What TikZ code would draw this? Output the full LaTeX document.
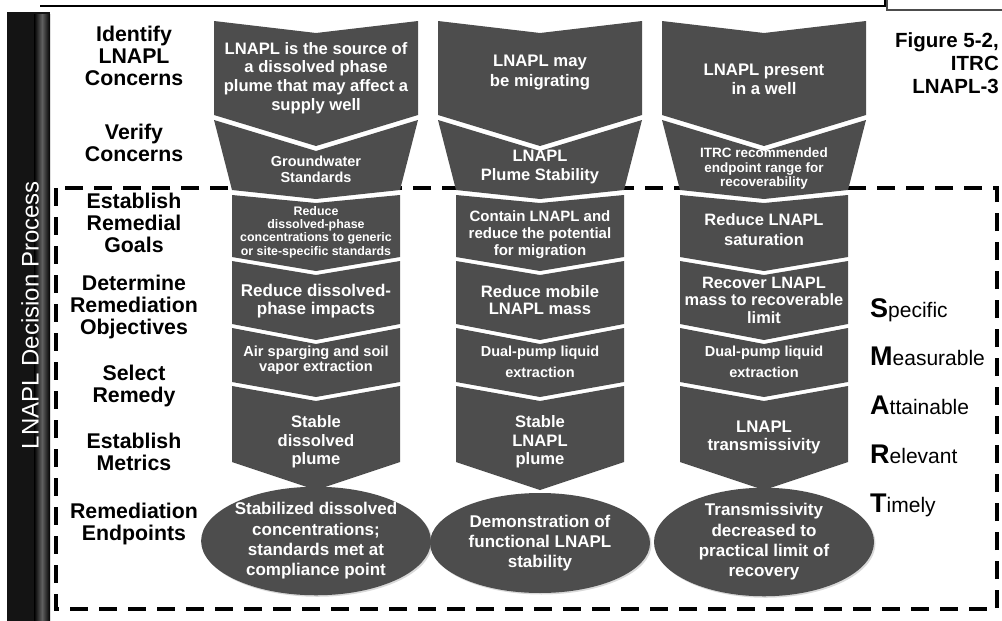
\documentclass[tikz,border=0pt]{standalone}
\usepackage{fontspec}
\setmainfont{Liberation Sans}
\usetikzlibrary{shapes.geometric,shadows,positioning}
\definecolor{blockgray}{RGB}{77,77,77}
\newcommand{\txtsize}[2]{\fontsize{#1}{#2}\selectfont}
\newcommand{\initial}[1]{{\bfseries\txtsize{27}{27}#1}}

\begin{document}
\begin{tikzpicture}[
    x=1pt, y=-1pt,
    blk/.style={fill=blockgray},
    intxt/.style={text=white, align=center, inner sep=0pt},
    stage/.style={align=center, inner sep=0pt, font=\bfseries\txtsize{21.3}{21.7}},
    endpt/.style={ellipse, fill=blockgray, minimum width=220pt, minimum height=100pt, inner sep=0pt,
        text=white, align=center, font=\bfseries\txtsize{17}{20.3},
        drop shadow={opacity=0.3, shadow xshift=1.5pt, shadow yshift=-1.5pt}},
    smart/.style={anchor=base west, inner sep=0pt, font=\txtsize{21}{24}},
    figtxt/.style={anchor=base east, inner sep=0pt, font=\bfseries\txtsize{20.5}{22}},
    frame/.style={line width=3.5pt, dash pattern=on 18pt off 11pt}
]
    \useasboundingbox (0,0) rectangle (1002,621);
    \clip (0,0) rectangle (1002,621);

    % header boxes
    \draw[line width=2pt] (40,6) -- (885,6) -- (885,-3);
    \draw[line width=1.2pt, gray!60!black] (887,-3) -- (887,10) -- (1006,10);

    % side bar
    \fill[black!92] (7,12) rectangle (50,625);
    \shade[left color=black, right color=black, middle color=gray!75!black] (34,14) rectangle (50,625);
    \node[rotate=90, text=white, inner sep=0pt, font=\txtsize{24}{26}] (barlbl) at (30,315) {LNAPL Decision Process};

    % dashed frame
    \draw[frame] (56,188) rectangle (997,609);

    % chevron columns
    \foreach \c in {316,540,764} {
        \fill[blk] (\c-102,21) -- (\c,33) -- (\c+102,21) -- (\c+102,115) -- (\c,146) -- (\c-102,115) -- cycle;
        \fill[blk] (\c-102,120) -- (\c,151) -- (\c+102,120) -- (\c+84,190) -- (\c,199) -- (\c-84,190) -- cycle;
        \fill[blk] (\c-84,195) -- (\c,203) -- (\c+84,195) -- (\c+84,257) -- (\c,271) -- (\c-84,257) -- cycle;
        \fill[blk] (\c-84,261) -- (\c,275) -- (\c+84,261) -- (\c+84,324) -- (\c,340) -- (\c-84,324) -- cycle;
        \fill[blk] (\c-84,328) -- (\c,344) -- (\c+84,328) -- (\c+84,382) -- (\c,397) -- (\c-84,382) -- cycle;
        \fill[blk] (\c-84,386) -- (\c,401) -- (\c+84,386) -- (\c+84,462) -- (\c,490) -- (\c-84,462) -- cycle;
    }

    % stage labels
    \node[stage] (identify) at (134,56) {Identify\\LNAPL\\Concerns};
    \node[stage] (verify) at (134,143) {Verify\\Concerns};
    \node[stage] (goals) at (134,223) {Establish\\Remedial\\Goals};
    \node[stage] (objectives) at (134,307) {Determine\\Remediation\\Objectives};
    \node[stage] (remedy) at (134,386) {Select\\Remedy};
    \node[stage] (metrics) at (134,452) {Establish\\Metrics};
    \node[stage] (endpoints) at (134,524) {Remediation\\Endpoints};

    % column 1
    \node[intxt, font=\bfseries\txtsize{16.6}{18.7}] (c1concern) at (316,78) {LNAPL is the source of\\a dissolved phase\\plume that may affect a\\supply well};
    \node[intxt, font=\bfseries\txtsize{14.5}{15.7}] (c1verify) at (316,169) {Groundwater\\Standards};
    \node[intxt, font=\bfseries\txtsize{12.4}{13.4}] (c1goal) at (316,232) {Reduce\\dissolved-phase\\concentrations to generic\\or site-specific standards};
    \node[intxt, font=\bfseries\txtsize{17}{18}] (c1object) at (316,301) {Reduce dissolved-\\phase impacts};
    \node[intxt, font=\bfseries\txtsize{14.6}{14.7}] (c1remedy) at (316,360) {Air sparging and soil\\vapor extraction};
    \node[intxt, font=\bfseries\txtsize{16.6}{18.5}] (c1metric) at (316,442) {Stable\\dissolved\\plume};
    \node[endpt] (c1end) at (316,541) {Stabilized dissolved\\concentrations;\\standards met at\\compliance point};

    % column 2
    \node[intxt, font=\bfseries\txtsize{16.7}{20}] (c2concern) at (540,73) {LNAPL may\\be migrating};
    \node[intxt, font=\bfseries\txtsize{16.5}{18.5}] (c2verify) at (540,167) {LNAPL\\Plume Stability};
    \node[intxt, font=\bfseries\txtsize{15}{17}] (c2goal) at (540,235) {Contain LNAPL and\\reduce the potential\\for migration};
    \node[intxt, font=\bfseries\txtsize{16.6}{17.7}] (c2object) at (540,300) {Reduce mobile\\LNAPL mass};
    \node[intxt, font=\bfseries\txtsize{14.5}{21}] (c2remedy) at (540,362) {Dual-pump liquid\\extraction};
    \node[intxt, font=\bfseries\txtsize{16.6}{18.5}] (c2metric) at (540,442) {Stable\\LNAPL\\plume};
    \node[endpt] (c2end) at (540,543) {Demonstration of\\functional LNAPL\\stability};

    % column 3
    \node[intxt, font=\bfseries\txtsize{16.7}{19}] (c3concern) at (764,79) {LNAPL present\\in a well};
    \node[intxt, font=\bfseries\txtsize{13.5}{14.5}] (c3verify) at (764,169) {ITRC recommended\\endpoint range for\\recoverability};
    \node[intxt, font=\bfseries\txtsize{16.5}{20}] (c3goal) at (764,230) {Reduce LNAPL\\saturation};
    \node[intxt, font=\bfseries\txtsize{16.4}{17.5}] (c3object) at (764,300) {Recover LNAPL\\mass to recoverable\\limit};
    \node[intxt, font=\bfseries\txtsize{14.5}{21}] (c3remedy) at (764,362) {Dual-pump liquid\\extraction};
    \node[intxt, font=\bfseries\txtsize{16.8}{18}] (c3metric) at (764,437) {LNAPL\\transmissivity};
    \node[endpt] (c3end) at (764,542) {Transmissivity\\decreased to\\practical limit of\\recovery};

    % SMART list
    \node[smart] (spec) at (870,317) {\initial{S}pecific};
    \node[smart] (meas) at (870,365) {\initial{M}easurable};
    \node[smart] (attn) at (870,414) {\initial{A}ttainable};
    \node[smart] (relv) at (870,463) {\initial{R}elevant};
    \node[smart] (timely) at (870,512) {\initial{T}imely};

    % figure caption
    \node[figtxt] (figno) at (999,47) {Figure 5-2,};
    \node[figtxt] (figitrc) at (999,70) {ITRC};
    \node[figtxt] (figdoc) at (999,93) {LNAPL-3};
\end{tikzpicture}
\end{document}
